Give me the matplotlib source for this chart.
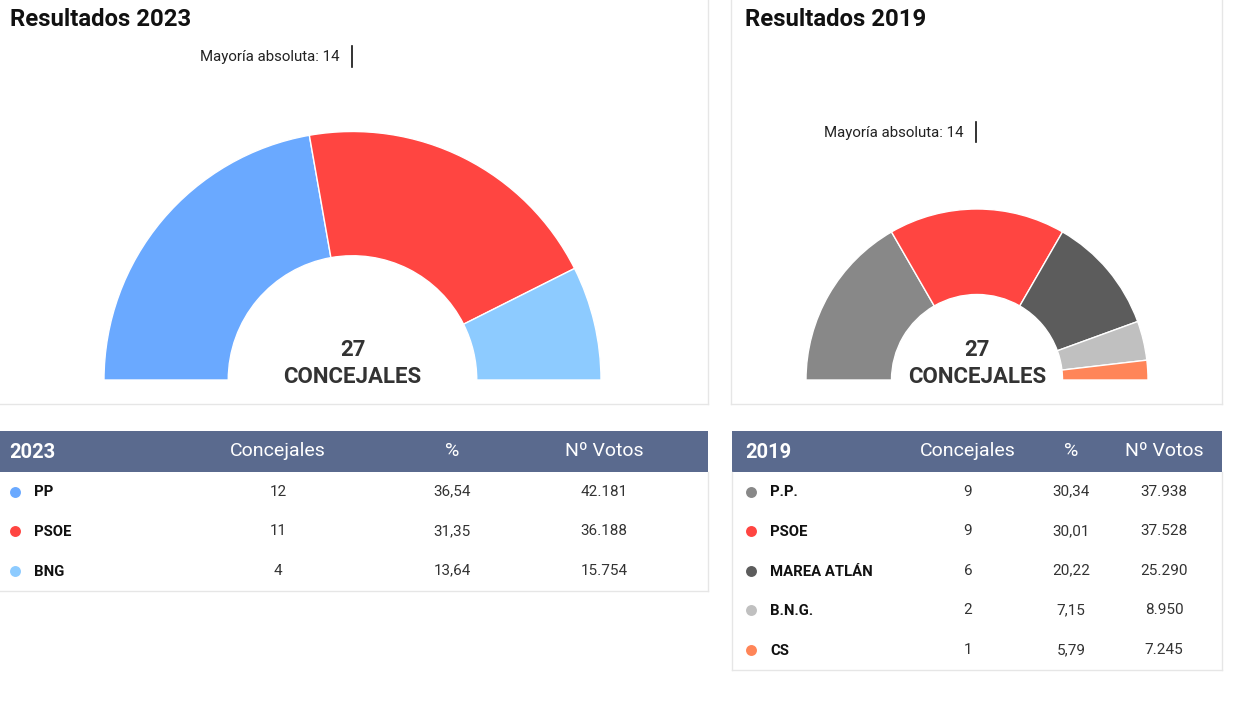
import matplotlib
matplotlib.use("Agg")
import matplotlib.pyplot as plt
from matplotlib.patches import Rectangle

plt.rcParams['font.family'] = ['Roboto', 'DejaVu Sans']

# ---------------- data ----------------
parties_2023 = ["PP", "PSOE", "BNG"]
seats_2023 = [12, 11, 4]
pct_2023 = ["36,54", "31,35", "13,64"]
votes_2023 = ["42.181", "36.188", "15.754"]
colors_2023 = ["#6aa9ff", "#ff4541", "#8dcbff"]

parties_2019 = ["P.P.", "PSOE", "MAREA ATLÁN", "B.N.G.", "CS"]
seats_2019 = [9, 9, 6, 2, 1]
pct_2019 = ["30,34", "30,01", "20,22", "7,15", "5,79"]
votes_2019 = ["37.938", "37.528", "25.290", "8.950", "7.245"]
colors_2019 = ["#888888", "#ff4541", "#5c5c5c", "#c0c0c0", "#ff8558"]

columns = ["Concejales", "%", "Nº Votos"]
majority = 14
total_label = "CONCEJALES"

W, H = 1238, 705
fig = plt.figure(figsize=(W / 100, H / 100), dpi=100)
bg = fig.add_axes([0, 0, 1, 1])
bg.set_xlim(0, W)
bg.set_ylim(H, 0)
bg.axis("off")

BORDER = "#e6e6e6"
HEADER = "#5a6a8e"
TXT = "#333333"


def donut(seats, colors, cx, cy, r):
    ax = fig.add_axes([(cx - r) / W, (H - cy - r) / H, 2 * r / W, 2 * r / H])
    vals = list(seats) + [sum(seats)]
    cols = list(colors) + ["none"]
    wedges, _ = ax.pie(vals, colors=cols, startangle=180, counterclock=False,
                       radius=1, wedgeprops=dict(width=0.5, edgecolor="white", linewidth=1))
    wedges[-1].set_edgecolor("none")
    ax.set_xlim(-1, 1)
    ax.set_ylim(-1, 1)
    ax.axis("off")


def panel(x0, x1, title, seats, colors, cx, cy, r, maj_y0, maj_y1, left_border=True):
    bg.plot([x1, x1], [0, 404], color=BORDER, lw=1)
    if left_border:
        bg.plot([x0, x0], [0, 404], color=BORDER, lw=1)
    bg.plot([x0, x1], [404, 404], color=BORDER, lw=1)
    bg.text(x0 + 10 + (4 if left_border else 0), 19, title, fontsize=17.2, fontweight="bold",
            color="#111111", ha="left", va="center")
    donut(seats, colors, cx, cy, r)
    bg.plot([cx - 1, cx - 1], [maj_y0, maj_y1], color="#111111", lw=1.2)
    bg.text(cx - 13, (maj_y0 + maj_y1) / 2 + 1, f"Mayoría absoluta: {majority}",
            fontsize=10.8, color="#222222", ha="right", va="center")
    bg.text(cx, 350, str(sum(seats)), fontsize=16, fontweight="bold", color=TXT,
            ha="center", va="center")
    bg.text(cx, 377, total_label, fontsize=16, fontweight="bold", color=TXT,
            ha="center", va="center")


panel(0, 708, "Resultados 2023", seats_2023, colors_2023, 352.5, 380, 248.5, 46, 67,
      left_border=False)
panel(731, 1222, "Resultados 2019", seats_2019, colors_2019, 977, 380, 171, 122, 142)


def table(x0, x1, year, parties, seats, pct, votes, colors, col_x, dot_x, name_x,
          left_border=True):
    bg.add_patch(Rectangle((x0, 431), x1 - x0, 41, color=HEADER, lw=0))
    bg.text(x0 + 9 + (4 if left_border else 0), 452, year, fontsize=14.5, fontweight="bold",
            color="white", ha="left", va="center")
    for cxp, c in zip(col_x, columns):
        bg.text(cxp, 451, c, fontsize=14, color="white", ha="center", va="center")
    n = len(parties)
    row_y = [491.5 + 39.6 * i for i in range(n)]
    bottom = row_y[-1] + 20
    bg.plot([x0, x1], [bottom, bottom], color=BORDER, lw=1)
    bg.plot([x1, x1], [472, bottom], color=BORDER, lw=1)
    if left_border:
        bg.plot([x0, x0], [472, bottom], color=BORDER, lw=1)
    for i, y in enumerate(row_y):
        bg.scatter([dot_x], [y], s=62, color=colors[i], linewidths=0, zorder=3)
        bg.text(name_x, y + 1, parties[i], fontsize=10.7, fontweight="bold",
                color="#111111", ha="left", va="center")
        for cxp, v in zip(col_x, [str(seats[i]), pct[i], votes[i]]):
            bg.text(cxp, y, v, fontsize=11, color=TXT, ha="center", va="center")


table(0, 708, "2023", parties_2023, seats_2023, pct_2023, votes_2023, colors_2023,
      [278, 452, 604], 15, 34, left_border=False)
table(732, 1222, "2019", parties_2019, seats_2019, pct_2019, votes_2019, colors_2019,
      [968, 1071, 1164], 751, 770)

fig.savefig("out.png", dpi=100, facecolor="white")
